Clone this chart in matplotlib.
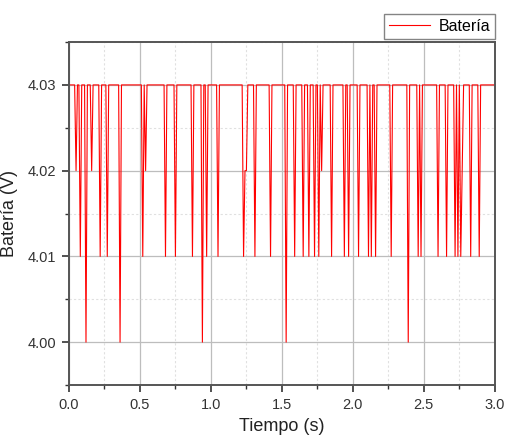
import numpy as np
import matplotlib
matplotlib.use("Agg")
import matplotlib.pyplot as plt
from matplotlib.ticker import MultipleLocator

plt.rcParams['font.family'] = ['Liberation Sans', 'DejaVu Sans']

# Sample times (s) and baseline battery level (V)
t_start, t_end, t_step = 0.0, 3.0, 0.01
baseline = 4.03

# Samples where the reading drops below the baseline
dip_times = [0.05, 0.08, 0.12, 0.16, 0.22, 0.27, 0.36, 0.52, 0.54, 0.68,
             0.75, 0.87, 0.94, 0.97, 1.05, 1.23, 1.24, 1.25, 1.31, 1.42,
             1.53, 1.59, 1.65, 1.69, 1.73, 1.76, 1.78, 1.85, 1.94, 1.97,
             2.04, 2.11, 2.13, 2.16, 2.27, 2.39, 2.46, 2.48, 2.60, 2.66,
             2.72, 2.74, 2.76, 2.77, 2.83, 2.89]
dip_values = [4.02, 4.01, 4.00, 4.02, 4.01, 4.01, 4.00, 4.01, 4.02, 4.01,
              4.01, 4.01, 4.00, 4.01, 4.01, 4.01, 4.02, 4.02, 4.01, 4.01,
              4.00, 4.01, 4.01, 4.01, 4.01, 4.01, 4.02, 4.01, 4.01, 4.01,
              4.01, 4.01, 4.01, 4.01, 4.01, 4.00, 4.01, 4.01, 4.01, 4.01,
              4.01, 4.01, 4.01, 4.02, 4.01, 4.01]

x_ticks = [0.0, 0.5, 1.0, 1.5, 2.0, 2.5, 3.0]
y_ticks = [4.00, 4.01, 4.02, 4.03]

time = np.round(np.arange(t_start, t_end + t_step / 2, t_step), 2)
volts = np.full(time.shape, baseline)
for t, v in zip(dip_times, dip_values):
    idx = int(np.argmin(np.abs(time - t)))
    volts[idx] = v

fig = plt.figure(figsize=(5.07, 4.38), dpi=100)
ax = fig.add_axes([0.136, 0.121, 0.840, 0.783])

ax.plot(time, volts, color='#ff0000', linewidth=0.8, label='Batería')

ax.set_xlim(0.0, 3.0)
ax.set_ylim(3.995, 4.035)
ax.set_xticks(x_ticks)
ax.set_xticklabels([f"{v:.1f}" for v in x_ticks])
ax.set_yticks(y_ticks)
ax.set_yticklabels([f"{v:.2f}" for v in y_ticks])
ax.xaxis.set_minor_locator(MultipleLocator(0.25))
ax.yaxis.set_minor_locator(MultipleLocator(0.005))

ax.grid(which='major', color='#bdbdbd', linewidth=0.9, linestyle='-')
ax.grid(which='minor', color='#e0e0e0', linewidth=0.8, linestyle=(0, (2, 2)))
ax.set_axisbelow(True)

for s in ax.spines.values():
    s.set_color('#555555')
    s.set_linewidth(1.4)

ax.tick_params(which='major', direction='out', length=5, width=1.2,
               color='#333333', labelsize=10.5, labelcolor='#333333', pad=4)
ax.tick_params(which='minor', direction='out', length=3, width=1.0,
               color='#333333')

ax.set_xlabel('Tiempo (s)', fontsize=13, color='#222222', labelpad=5)
ax.set_ylabel('Batería (V)', fontsize=13, color='#222222', labelpad=7)

leg = ax.legend(loc='lower right', bbox_to_anchor=(1.0, 1.01), fontsize=11.5,
                frameon=True, fancybox=False, borderaxespad=0.0,
                handlelength=2.6, borderpad=0.3, handletextpad=0.5)
leg.get_frame().set_edgecolor('#666666')
leg.get_frame().set_linewidth(1.0)

fig.savefig('out.png', dpi=100)
